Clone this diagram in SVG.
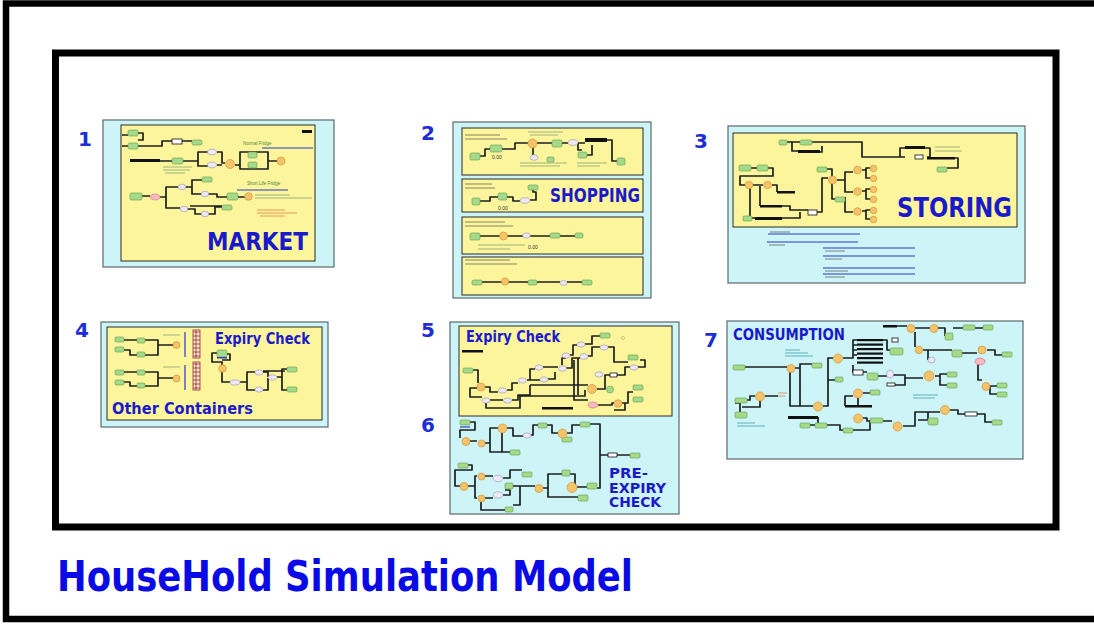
<svg xmlns="http://www.w3.org/2000/svg" width="1094" height="624" viewBox="0 0 1094 624">
  <defs>
    <style>
      .frame{fill:none;stroke:#000}
      .cy{fill:#cdf4f7;stroke:#5a6a6a;stroke-width:1.2}
      .ye{fill:#fdf59c;stroke:#2a2a2a;stroke-width:1}
      .g{fill:#a4da8a;stroke:#5e9a4a;stroke-width:.6}
      .o{fill:#f5c46a;stroke:#cf8a2c;stroke-width:.6}
      .l{fill:#ece8f6;stroke:#9890b6;stroke-width:.6}
      .p{fill:#f6b8c2;stroke:#d07080;stroke-width:.6}
      .b{fill:#111}
      .wb{fill:#fff;stroke:#111;stroke-width:.8}
      .w{fill:none;stroke:#1b1f1f;stroke-width:1.7;stroke-linejoin:round}
      .bl{stroke:#2a3ad0;stroke-width:1.2}
      .tx{stroke:#7f9f74;stroke-width:1;opacity:.75}
      .td{stroke:#555;stroke-width:1;opacity:.7}
      .tt{stroke:#3a9aa8;stroke-width:1;opacity:.75}
      .tr{stroke:#e07a40;stroke-width:1;opacity:.75}
      .lbl{font-family:"DejaVu Sans","Liberation Sans",sans-serif;font-weight:bold;fill:#1a1acb}
      .num{font-family:"DejaVu Sans","Liberation Sans",sans-serif;font-weight:bold;fill:#1d2ed8;font-size:20px}
      .small{font-family:"Liberation Sans",sans-serif;font-size:5px;fill:#333}
      .gt{font-family:"Liberation Sans",sans-serif;font-size:4.5px;fill:#4a8a3a}
    </style>
    <pattern id="ladder" width="7" height="4" patternUnits="userSpaceOnUse">
      <rect width="7" height="4" fill="#f6e6c8" stroke="#9a2a3a" stroke-width=".8"/>
    </pattern>
  </defs>

  <!-- page frames -->
  <rect width="1094" height="624" fill="#fff"/>
  <rect class="frame" x="6" y="3.5" width="1100" height="615.5" stroke-width="6.5"/>
  <rect class="frame" x="55.5" y="53" width="1000.5" height="474" stroke-width="7"/>

  <!-- panel backgrounds -->
  <g id="panel-backgrounds">
    <rect class="cy" x="103" y="120" width="231" height="147"/>
    <rect class="ye" x="121" y="125" width="194" height="136"/>

    <rect class="cy" x="453" y="122" width="198" height="176"/>
    <rect class="ye" x="462" y="128" width="181" height="47"/>
    <rect class="ye" x="462" y="179" width="181" height="33"/>
    <rect class="ye" x="462" y="217" width="181" height="37"/>
    <rect class="ye" x="462" y="257" width="181" height="38"/>

    <rect class="cy" x="728" y="126" width="297" height="157"/>
    <rect class="ye" x="733" y="133" width="284" height="94"/>

    <rect class="cy" x="101" y="322" width="227" height="105"/>
    <rect class="ye" x="107" y="327" width="215" height="93"/>

    <rect class="cy" x="450" y="322" width="229" height="192"/>
    <rect class="ye" x="459" y="326" width="213" height="90"/>

    <rect class="cy" x="727" y="321" width="296" height="138"/>
  </g>

  <!-- connectors of the small flow charts -->
  <g id="connectors">
    <!-- market -->
    <path class="w" d="M122,135 H128 M138,133 H143 V140 H138 M122,146 H128 M138,146 H162 V141 H172 M182,141 H192 M160,161 H172 M183,161 H198 V152 H208 M198,161 V166 H208 M217,152 H222 V163 H225 M217,165 H222 M235,165 H240 M240,152 H268 V169 H240 Z M268,161 H278"/>
    <path class="w" d="M142,196 H150 M160,197 H166 V187 H178 M166,197 V208 H180 M185,187 H192 V180 H202 M192,187 V194 H202 M208,194 H217 V197 H227 M238,197 H245 M187,209 H195 V214 H202 M208,214 H215 V207 H222 M190,206 H222"/>
    <!-- shopping -->
    <path class="w" d="M480,156 H485 V149 H490 M502,149 H515 V143 H528 M537,143 H552 M562,143 H568 M578,143 H585 M533,147 V155 M607,140 H612 V161 H617 M587,155 H592 V145 M578,143 V150 H582"/>
    <path class="w" d="M480,201 H490 V197 H498 M507,197 H513 V201 H520 M530,200 H536 V192 H533 V188"/>
    <path class="w" d="M480,236 H500 M507,236 H523 M530,236 H550 M560,236 H575"/>
    <path class="w" d="M482,282 H502 M508,282 H528 M537,282 H560 M567,282 H582"/>
    <!-- storing -->
    <path class="w" d="M787,142 H800 M792,142 V151 H798 M820,152 H822 V146 M812,142 H862 V157 H905 M905,148 H900 V157 M925,148 H930 V157 H927 M955,158 H958 V168 H947"/>
    <path class="w" d="M751,168 H757 M768,168 H773 V176 H740 V185 H745 M753,185 H763 M772,185 H777 V192 M760,186 V206 M750,188 V218 H755 M782,206 H790 V210 H808 M782,218 H800 V212 M817,212 H822 V178 H828 M827,169 H832 V177 M837,180 H845 V172 H853 M832,183 V199 H835 M845,180 V192 H853 M862,170 H866 V168 H870 M866,170 V178 H870 M845,197 V212 H853 M862,191 H866 V189 H870 M866,191 V199 H870 M862,211 H866 V210 H870 M866,211 V219 H870"/>
    <!-- other containers / expiry -->
    <path class="w" d="M124,340 H137 M124,350 H130 V355 H137 M145,340 H158 V345 H173 M145,355 H158 V345 M124,372 H137 M124,382 H130 V386 H137 M145,372 H158 V378 H173 M145,386 H158 V378"/>
    <path class="w" d="M217,353 H212 V362 H222 V365 M227,354 H230 V360 H222 M222,372 V382 H230 M240,382 H247 V372 H255 M247,382 V390 H255 M263,372 H268 V377 M263,390 H268 V378 M277,377 H282 V369 H287 M282,377 V390 H287 M263,371 H285"/>
    <!-- expiry check -->
    <path class="w" d="M473,370 H478 V383 M477,388 H470 V397 H482 M485,387 H490 V392 H498 M490,400 H503 M507,390 H512 V383 H518 M512,400 H518 V395 H530 V385 M527,380 H540 M530,380 V369 H535 M543,367 H558 M548,379 H555 V372 M566,368 H572 V358 H580 M570,355 H573 V345 H577 M585,344 H592 V336 H600 M588,356 H592 V347 H600 M608,347 H614 V362 H628 M574,360 V400 H588 M578,358 V395 M597,389 H605 V375 H610 M617,375 H625 V367 H630 M638,367 H645 V360 H640 M598,405 H612 V403 H614 M622,403 H628 V392 H633 M625,403 V410 H614 M486,402 V408 H520 V396 M530,385 H588 M519,396 H585 V390 M562,365 V358 H566"/>
    <!-- pre-expiry -->
    <path class="w" d="M470,422 H475 V430 H460 V438 M470,441 H477 M485,443 H490 V428 H498 M490,443 V452 H510 M507,428 H513 V436 H523 M531,435 H533 V425 H538 M547,425 H552 V433 H558 M567,433 H572 V425 H580 M590,424 H600 V455 H608 M617,455 H630 M600,455 V488 H597 M502,432 V452"/>
    <path class="w" d="M468,465 H472 V470 H455 V486 H460 M468,486 H475 V476 H477 M485,476 H493 M475,486 V498 H477 M485,498 H493 M503,478 H510 V470 H522 M503,495 H510 V490 H505 M513,486 H535 M520,486 V505 H513 M543,488 H548 V474 H562 M548,488 V497 H578 M570,474 H575 V487 H567 M577,487 H587 M481,501 V510 H505"/>
    <!-- consumption -->
    <path class="w" d="M745,367 H787 M795,368 H800 V364 H812 M790,372 V406 H813 M800,368 V406 M823,406 H828 V358 H833 M828,380 H835 M843,358 H853 V340 H857 M853,365 V372 H857 M747,400 H750 V396 H755 M765,396 H778 M747,415 H740 V403 H735 M760,400 V407 H742 M818,417 V423 M810,425 H815 M827,425 H840 V430 H843 M853,430 H870 V420 M863,393 H870 M858,397 V405 M845,406 V396 H853 M863,418 H867 V421 H870 M883,421 H892 M903,426 H915 V412 H928 V420 M928,420 H918 M950,410 H958 V414 H965 M977,414 H985 V422 H992 M915,412 H940"/>
    <path class="w" d="M883,340 H887 V350 H890 M863,372 H867 M878,376 H887 M893,375 H905 V378 H923 M895,385 H905 V378 M935,376 H940 V374 H947 M940,376 V385 H947 M897,326 H907 M915,328 H930 M938,328 H945 V336 M915,332 V347 M923,350 H952 M928,350 V360 M962,353 H977 M987,350 H995 V355 H1002 M985,361 H978 V380 H982 M990,386 H997 M990,386 V394 H997 M953,328 H963 M975,328 H983 M857,345 H853 M857,350 H853 M857,355 H853"/>
  </g>

  <!-- 1 market -->
  <g id="market">
    <rect class="g" x="128" y="130" width="10" height="6" rx="1.5"/>
    <rect class="g" x="128" y="143" width="10" height="6" rx="1.5"/>
    <rect class="b" x="130" y="159" width="30" height="3"/>
    <rect class="g" x="172" y="158" width="11" height="6" rx="1.5"/>
    <rect class="wb" x="172" y="139" width="10" height="5"/>
    <rect class="g" x="192" y="140" width="10" height="5" rx="1.5"/>
    <ellipse class="l" cx="212" cy="152" rx="4.5" ry="2.8"/>
    <ellipse class="l" cx="212" cy="165" rx="4.5" ry="2.8"/>
    <circle class="o" cx="230" cy="164" r="4.5"/>
    <rect class="g" x="248" y="152" width="9" height="6" rx="1.5"/>
    <rect class="g" x="248" y="162" width="9" height="6" rx="1.5"/>
    <circle class="o" cx="281" cy="161" r="4"/>
    <rect class="b" x="302" y="130" width="10" height="3"/>
    <text class="gt" x="243" y="145">Normal Fridge</text>
    <line class="bl" x1="262" y1="148" x2="313" y2="148"/>
    <text class="gt" x="247" y="185">Short Life Fridge</text>
    <line class="bl" x1="237" y1="190" x2="288" y2="190"/>
    <line class="tx" x1="163" y1="167" x2="192" y2="167"/>
    <line class="tx" x1="163" y1="170" x2="190" y2="170"/>
    <line class="tx" x1="165" y1="173" x2="185" y2="173"/>
    <rect class="g" x="130" y="193" width="12" height="7" rx="1.5"/>
    <ellipse class="p" cx="155" cy="197" rx="5" ry="3"/>
    <ellipse class="l" cx="182" cy="187" rx="3.8" ry="2.8"/>
    <rect class="g" x="202" y="177" width="10" height="5" rx="1.5"/>
    <ellipse class="l" cx="205" cy="194" rx="3.8" ry="2.8"/>
    <rect class="g" x="227" y="193" width="11" height="7" rx="1.5"/>
    <circle class="o" cx="248.5" cy="196.5" r="3.8"/>
    <ellipse class="l" cx="184" cy="209" rx="3.8" ry="2.8"/>
    <ellipse class="l" cx="205" cy="214" rx="3.8" ry="2.8"/>
    <rect class="g" x="222" y="205" width="10" height="5" rx="1.5"/>
    <line class="tx" x1="255" y1="195" x2="290" y2="195"/>
    <line class="tx" x1="255" y1="198" x2="312" y2="198"/>
    <line class="tr" x1="257" y1="210" x2="285" y2="210"/>
    <line class="tr" x1="257" y1="213" x2="297" y2="213"/>
    <line class="tr" x1="260" y1="216" x2="285" y2="216"/>
    <text class="num" x="78" y="146">1</text>
    <text class="lbl" x="207" y="250" font-size="25" textLength="101" lengthAdjust="spacingAndGlyphs">MARKET</text>
  </g>

  <!-- 2 shopping -->
  <g id="shopping">
    <line class="td" x1="465" y1="135" x2="500" y2="135"/>
    <line class="td" x1="465" y1="139" x2="507" y2="139"/>
    <line class="tx" x1="528" y1="132" x2="563" y2="132"/>
    <line class="tx" x1="530" y1="135" x2="558" y2="135"/>
    <rect class="g" x="470" y="153" width="10" height="7" rx="1.5"/>
    <rect class="g" x="490" y="145" width="12" height="7" rx="1.5"/>
    <text class="small" x="492" y="159">0.00</text>
    <circle class="o" cx="532.5" cy="143.5" r="4.5"/>
    <ellipse class="l" cx="534" cy="157.5" rx="4" ry="2.8"/>
    <rect class="g" x="547" y="157" width="7" height="5" rx="1.2"/>
    <rect class="g" x="552" y="140" width="10" height="7" rx="1.5"/>
    <ellipse class="l" cx="573" cy="142.5" rx="5" ry="2.8"/>
    <rect class="b" x="585" y="138" width="22" height="4"/>
    <rect class="g" x="578" y="152" width="9" height="6" rx="1.5"/>
    <rect class="g" x="617" y="158" width="8" height="7" rx="1.5"/>
    <line class="tx" x1="520" y1="163" x2="567" y2="163"/>
    <line class="tx" x1="520" y1="166" x2="560" y2="166"/>
    <line class="tx" x1="577" y1="163" x2="607" y2="163"/>
    <line class="tx" x1="577" y1="166" x2="600" y2="166"/>

    <line class="td" x1="465" y1="184" x2="492" y2="184"/>
    <line class="td" x1="465" y1="188" x2="495" y2="188"/>
    <rect class="g" x="472" y="198" width="8" height="7" rx="1.5"/>
    <rect class="g" x="498" y="193" width="9" height="7" rx="1.5"/>
    <text class="small" x="498" y="210" font-size="5.5">0.00</text>
    <ellipse class="l" cx="525" cy="200.5" rx="5" ry="2.8"/>
    <rect class="g" x="528" y="185" width="10" height="5" rx="1.5"/>
    <text class="lbl" x="550" y="202" font-size="19" textLength="90" lengthAdjust="spacingAndGlyphs">SHOPPING</text>

    <line class="td" x1="465" y1="222" x2="505" y2="222"/>
    <line class="td" x1="465" y1="226" x2="513" y2="226"/>
    <rect class="g" x="470" y="233" width="10" height="7" rx="1.5"/>
    <circle class="o" cx="503.5" cy="236" r="4"/>
    <ellipse class="l" cx="526.5" cy="235.5" rx="3.8" ry="2.6"/>
    <rect class="g" x="550" y="233" width="10" height="5" rx="1.5"/>
    <rect class="g" x="575" y="233" width="8" height="5" rx="1.5"/>
    <line class="tx" x1="478" y1="245" x2="525" y2="245"/>
    <line class="tx" x1="478" y1="249" x2="510" y2="249"/>
    <text class="small" x="528" y="249" font-size="6.5">0.00</text>

    <line class="td" x1="465" y1="260" x2="510" y2="260"/>
    <line class="td" x1="465" y1="264" x2="517" y2="264"/>
    <rect class="g" x="472" y="280" width="10" height="5" rx="1.5"/>
    <circle class="o" cx="505" cy="281.5" r="3.6"/>
    <rect class="g" x="528" y="280" width="9" height="5" rx="1.5"/>
    <ellipse class="l" cx="563.5" cy="283" rx="3.6" ry="2.4"/>
    <rect class="g" x="582" y="280" width="10" height="5" rx="1.5"/>
    <text class="num" x="421" y="140">2</text>
  </g>

  <!-- 3 storing -->
  <g id="storing">
    <rect class="g" x="779" y="140" width="8" height="5" rx="1.2"/>
    <rect class="g" x="800" y="140" width="12" height="5" rx="1.5"/>
    <rect class="b" x="798" y="150" width="22" height="3"/>
    <rect class="b" x="905" y="146" width="20" height="3"/>
    <rect class="wb" x="915" y="155" width="8" height="4"/>
    <rect class="b" x="927" y="157" width="28" height="2.5"/>
    <rect class="g" x="937" y="167" width="10" height="5" rx="1.2"/>
    <line class="tx" x1="935" y1="147" x2="960" y2="147"/>
    <line class="tx" x1="935" y1="151" x2="962" y2="151"/>
    <rect class="g" x="739" y="165" width="12" height="6" rx="1.5"/>
    <rect class="g" x="757" y="165" width="11" height="6" rx="1.5"/>
    <circle class="o" cx="749" cy="185" r="3.8"/>
    <circle class="o" cx="767.5" cy="185" r="3.8"/>
    <rect class="b" x="777" y="191" width="18" height="2.5"/>
    <rect class="b" x="760" y="205" width="22" height="2.5"/>
    <rect class="b" x="755" y="217" width="27" height="3"/>
    <rect class="g" x="743" y="216" width="9" height="5" rx="1.2"/>
    <rect class="wb" x="808" y="210" width="9" height="5"/>
    <rect class="g" x="817" y="167" width="10" height="5" rx="1.2"/>
    <circle class="o" cx="832.5" cy="180" r="4"/>
    <rect class="g" x="835" y="197" width="10" height="5" rx="1.2"/>
    <circle class="o" cx="857.5" cy="170" r="3.8"/>
    <circle class="o" cx="873.5" cy="168.5" r="3.3"/>
    <circle class="o" cx="873.5" cy="178.5" r="3.3"/>
    <circle class="o" cx="857.5" cy="191.5" r="3.8"/>
    <circle class="o" cx="873.5" cy="189.5" r="3.3"/>
    <circle class="o" cx="873.5" cy="199.5" r="3.3"/>
    <circle class="o" cx="857.5" cy="211.5" r="3.8"/>
    <circle class="o" cx="873.5" cy="210.5" r="3.3"/>
    <circle class="o" cx="873.5" cy="219.5" r="3.3"/>
    <text class="lbl" x="897" y="217" font-size="26" textLength="115" lengthAdjust="spacingAndGlyphs">STORING</text>
    <line class="bl" x1="768" y1="234" x2="860" y2="234"/>
    <line class="td" x1="770" y1="232" x2="790" y2="232"/>
    <line class="bl" x1="767" y1="242" x2="858" y2="242"/>
    <line class="td" x1="769" y1="245" x2="785" y2="245"/>
    <line class="bl" x1="823" y1="248" x2="915" y2="248"/>
    <line class="td" x1="825" y1="251" x2="845" y2="251"/>
    <line class="bl" x1="823" y1="256" x2="915" y2="256"/>
    <line class="td" x1="825" y1="259" x2="842" y2="259"/>
    <line class="bl" x1="823" y1="268" x2="915" y2="268"/>
    <line class="td" x1="825" y1="271" x2="848" y2="271"/>
    <line class="bl" x1="823" y1="274" x2="915" y2="274"/>
    <line class="td" x1="825" y1="277" x2="845" y2="277"/>
    <text class="num" x="694" y="148">3</text>
  </g>

  <!-- 4 other containers -->
  <g id="other-containers">
    <rect class="g" x="115" y="337" width="9" height="5" rx="1.2"/>
    <rect class="g" x="115" y="347" width="9" height="5" rx="1.2"/>
    <rect class="g" x="137" y="338" width="8" height="5" rx="1.2"/>
    <rect class="g" x="137" y="352" width="8" height="5" rx="1.2"/>
    <circle class="o" cx="176.5" cy="345" r="3.5"/>
    <line class="tx" x1="163" y1="335" x2="180" y2="335"/>
    <line class="bl" x1="185" y1="332" x2="185" y2="357"/>
    <rect class="g" x="115" y="370" width="9" height="5" rx="1.2"/>
    <rect class="g" x="115" y="380" width="9" height="5" rx="1.2"/>
    <rect class="g" x="137" y="370" width="8" height="5" rx="1.2"/>
    <rect class="g" x="137" y="383" width="8" height="5" rx="1.2"/>
    <circle class="o" cx="176.5" cy="378.5" r="3.5"/>
    <line class="tx" x1="163" y1="367" x2="180" y2="367"/>
    <line class="bl" x1="185" y1="365" x2="185" y2="390"/>
    <rect x="193" y="330" width="7" height="28" fill="url(#ladder)" stroke="#9a2a3a" stroke-width=".8"/>
    <rect x="193" y="362" width="7" height="28" fill="url(#ladder)" stroke="#9a2a3a" stroke-width=".8"/>
    <rect class="g" x="217" y="350" width="10" height="7" rx="1.5"/>
    <rect x="217" y="357" width="10" height="1.5" fill="#2a3ad0"/>
    <circle class="o" cx="222.5" cy="368.5" r="3.8"/>
    <ellipse class="l" cx="235" cy="382.5" rx="5" ry="2.6"/>
    <ellipse class="l" cx="259" cy="372.5" rx="4" ry="2.6"/>
    <ellipse class="l" cx="259" cy="389.5" rx="4" ry="2.6"/>
    <ellipse class="l" cx="272.5" cy="377.5" rx="4.2" ry="2.6"/>
    <rect class="g" x="287" y="367" width="10" height="5" rx="1.2"/>
    <rect class="g" x="287" y="387" width="10" height="5" rx="1.2"/>
    <text class="lbl" x="215" y="344" font-size="16" textLength="95" lengthAdjust="spacingAndGlyphs">Expiry Check</text>
    <text class="lbl" x="112" y="414" font-size="16" textLength="141" lengthAdjust="spacingAndGlyphs">Other Containers</text>
    <text class="num" x="75" y="337">4</text>
  </g>

  <!-- 5 expiry check -->
  <g id="expiry-check">
    <rect class="b" x="462" y="350" width="21" height="2.5"/>
    <rect class="b" x="542" y="407" width="31" height="2.5"/>
    <rect class="g" x="463" y="368" width="10" height="5" rx="1.2"/>
    <rect class="g" x="600" y="333" width="10" height="5" rx="1.2"/>
    <rect class="g" x="628" y="355" width="10" height="5" rx="1.2"/>
    <rect class="g" x="633" y="385" width="10" height="5" rx="1.2"/>
    <rect class="g" x="633" y="397" width="10" height="5" rx="1.2"/>
    <circle class="g" cx="610" cy="389.5" r="3.5"/>
    <circle class="o" cx="481" cy="387" r="4"/>
    <circle class="o" cx="592" cy="389" r="4.5"/>
    <circle class="o" cx="618" cy="403.5" r="3.8"/>
    <ellipse class="p" cx="593" cy="405" rx="5" ry="3"/>
    <ellipse class="l" cx="486" cy="400.5" rx="4" ry="2.6"/>
    <ellipse class="l" cx="502.5" cy="390.5" rx="4" ry="2.6"/>
    <ellipse class="l" cx="507.5" cy="400.5" rx="4" ry="2.6"/>
    <ellipse class="l" cx="522.5" cy="380.5" rx="4" ry="2.6"/>
    <ellipse class="l" cx="544" cy="379.5" rx="4" ry="2.6"/>
    <ellipse class="l" cx="539" cy="367.5" rx="4" ry="2.6"/>
    <ellipse class="l" cx="562.5" cy="368.5" rx="4" ry="2.8"/>
    <ellipse class="l" cx="566" cy="355.5" rx="4" ry="2.6"/>
    <ellipse class="l" cx="581" cy="344.5" rx="4" ry="2.6"/>
    <ellipse class="l" cx="584" cy="356.5" rx="4" ry="2.8"/>
    <ellipse class="l" cx="604" cy="347.5" rx="4" ry="2.6"/>
    <ellipse class="l" cx="599" cy="374.5" rx="4" ry="2.6"/>
    <ellipse class="l" cx="634" cy="367.5" rx="4" ry="2.6"/>
    <rect class="wb" x="610" y="373" width="7" height="4"/>
    <circle cx="623" cy="338" r="1.5" fill="none" stroke="#c8a060" stroke-width=".6"/>
    <text class="lbl" x="466" y="342" font-size="16" textLength="94" lengthAdjust="spacingAndGlyphs">Expiry Check</text>
    <text class="num" x="421" y="337">5</text>
  </g>

  <!-- 6 pre-expiry check -->
  <g id="pre-expiry-check">
    <rect class="g" x="460" y="420" width="10" height="5" rx="1.2"/>
    <line class="bl" x1="460" y1="427" x2="470" y2="427"/>
    <rect class="g" x="538" y="423" width="9" height="5" rx="1.2"/>
    <rect class="g" x="580" y="422" width="10" height="5" rx="1.2"/>
    <rect class="g" x="510" y="450" width="10" height="5" rx="1.2"/>
    <rect class="g" x="562" y="437" width="10" height="5" rx="1.2"/>
    <rect class="g" x="630" y="453" width="10" height="5" rx="1.2"/>
    <rect class="g" x="458" y="463" width="10" height="5" rx="1.2"/>
    <rect class="g" x="505" y="483" width="8" height="6" rx="1.2"/>
    <rect class="g" x="522" y="472" width="10" height="5" rx="1.2"/>
    <rect class="g" x="562" y="470" width="8" height="6" rx="1.2"/>
    <rect class="g" x="587" y="483" width="10" height="6" rx="1.2"/>
    <rect class="g" x="578" y="495" width="10" height="6" rx="1.2"/>
    <rect class="g" x="505" y="507" width="8" height="5" rx="1.2"/>
    <circle class="o" cx="466" cy="441.5" r="4"/>
    <circle class="o" cx="481.5" cy="443.5" r="3.5"/>
    <circle class="o" cx="502.5" cy="428.5" r="4.5"/>
    <circle class="o" cx="562.5" cy="433.5" r="4.5"/>
    <circle class="o" cx="464" cy="486.5" r="4"/>
    <circle class="o" cx="481.5" cy="476.5" r="3.5"/>
    <circle class="o" cx="481.5" cy="498.5" r="3.5"/>
    <circle class="o" cx="539" cy="488.5" r="4"/>
    <circle class="o" cx="572" cy="487.5" r="5"/>
    <ellipse class="l" cx="527" cy="435.5" rx="4" ry="2.6"/>
    <ellipse class="l" cx="498" cy="478.5" rx="5" ry="3.2"/>
    <ellipse class="l" cx="498" cy="495" rx="5" ry="3.2"/>
    <rect class="wb" x="608" y="453" width="9" height="4"/>
    <text class="lbl" x="609" y="478" font-size="14" textLength="39" lengthAdjust="spacingAndGlyphs">PRE-</text>
    <text class="lbl" x="609" y="493" font-size="14" textLength="57" lengthAdjust="spacingAndGlyphs">EXPIRY</text>
    <text class="lbl" x="609" y="507" font-size="14" textLength="52" lengthAdjust="spacingAndGlyphs">CHECK</text>
    <text class="num" x="421" y="432">6</text>
  </g>

  <!-- 7 consumption -->
  <g id="consumption">
    <rect class="g" x="733" y="365" width="12" height="5" rx="1.2"/>
    <circle class="o" cx="791" cy="368.5" r="4"/>
    <rect class="g" x="812" y="363" width="10" height="5" rx="1.2"/>
    <circle class="o" cx="838" cy="358.5" r="4.5"/>
    <rect class="g" x="835" y="377" width="8" height="5" rx="1.2"/>
    <circle class="o" cx="760" cy="396.5" r="4.5"/>
    <rect class="g" x="735" y="398" width="12" height="5" rx="1.2"/>
    <rect class="g" x="735" y="412" width="12" height="6" rx="1.2"/>
    <line class="tr" x1="778" y1="393" x2="787" y2="393"/>
    <line class="tr" x1="778" y1="396" x2="785" y2="396"/>
    <circle class="o" cx="818" cy="406.5" r="4.5"/>
    <rect class="b" x="788" y="416" width="30" height="3"/>
    <rect class="g" x="800" y="423" width="10" height="5" rx="1.2"/>
    <rect class="g" x="815" y="423" width="12" height="5" rx="1.2"/>
    <rect class="g" x="843" y="428" width="10" height="5" rx="1.2"/>
    <circle class="o" cx="858" cy="393.5" r="4.5"/>
    <rect class="g" x="870" y="390" width="10" height="5" rx="1.2"/>
    <circle class="o" cx="858" cy="418.5" r="4.5"/>
    <rect class="b" x="845" y="405" width="27" height="2.5"/>
    <rect class="g" x="870" y="418" width="13" height="5" rx="1.2"/>
    <circle class="o" cx="897.5" cy="426.5" r="4.5"/>
    <rect class="b" x="857" y="339" width="26" height="2.2"/>
    <rect class="b" x="857" y="343.5" width="26" height="2.2"/>
    <rect class="b" x="857" y="348" width="26" height="2.2"/>
    <rect class="b" x="857" y="352.5" width="26" height="2.2"/>
    <rect class="b" x="857" y="357" width="26" height="2.2"/>
    <rect class="b" x="857" y="361.5" width="26" height="2.2"/>
    <rect class="wb" x="892" y="338" width="6" height="4"/>
    <rect class="g" x="890" y="348" width="13" height="7" rx="1.5"/>
    <rect class="wb" x="853" y="370" width="10" height="5"/>
    <rect class="g" x="867" y="373" width="11" height="7" rx="1.5"/>
    <ellipse class="l" cx="890" cy="374" rx="3.5" ry="4"/>
    <rect class="wb" x="887" y="383" width="8" height="3"/>
    <circle class="o" cx="929" cy="376" r="5"/>
    <rect class="g" x="947" y="372" width="10" height="5" rx="1.2"/>
    <rect class="g" x="947" y="383" width="10" height="5" rx="1.2"/>
    <rect class="b" x="883" y="325" width="14" height="2.5"/>
    <circle class="o" cx="911" cy="328.5" r="4"/>
    <circle class="o" cx="934" cy="328.5" r="4"/>
    <rect class="g" x="945" y="333" width="8" height="7" rx="1.2"/>
    <rect class="g" x="963" y="325" width="12" height="5" rx="1.2"/>
    <rect class="g" x="983" y="325" width="10" height="5" rx="1.2"/>
    <circle class="o" cx="919" cy="350" r="3.8"/>
    <ellipse class="l" cx="931.5" cy="360" rx="3.5" ry="3"/>
    <rect class="g" x="952" y="350" width="10" height="7" rx="1.5"/>
    <circle class="o" cx="982" cy="350" r="4"/>
    <ellipse class="p" cx="980" cy="361.5" rx="5" ry="3.5"/>
    <rect class="g" x="1002" y="352" width="10" height="5" rx="1.2"/>
    <circle class="o" cx="986" cy="386.5" r="4"/>
    <rect class="g" x="997" y="383" width="10" height="5" rx="1.2"/>
    <rect class="g" x="997" y="392" width="10" height="5" rx="1.2"/>
    <circle class="o" cx="945" cy="410" r="4.5"/>
    <rect class="wb" x="965" y="412" width="12" height="4"/>
    <rect class="g" x="928" y="418" width="10" height="7" rx="1.5"/>
    <rect class="g" x="992" y="420" width="10" height="5" rx="1.2"/>
    <line class="tt" x1="785" y1="350" x2="800" y2="350"/>
    <line class="tt" x1="785" y1="353" x2="808" y2="353"/>
    <line class="tt" x1="785" y1="356" x2="813" y2="356"/>
    <line class="tt" x1="737" y1="423" x2="755" y2="423"/>
    <line class="tt" x1="737" y1="426" x2="765" y2="426"/>
    <line class="tt" x1="913" y1="395" x2="938" y2="395"/>
    <line class="tt" x1="913" y1="398" x2="935" y2="398"/>
    <text class="lbl" x="733" y="340" font-size="16" textLength="112" lengthAdjust="spacingAndGlyphs">CONSUMPTION</text>
    <text class="num" x="704" y="347">7</text>
  </g>

  <!-- title -->
  <text id="title" class="lbl" x="57" y="591" font-size="42" textLength="576" lengthAdjust="spacingAndGlyphs" style="fill:#0a0ae6">HouseHold Simulation Model</text>
</svg>
